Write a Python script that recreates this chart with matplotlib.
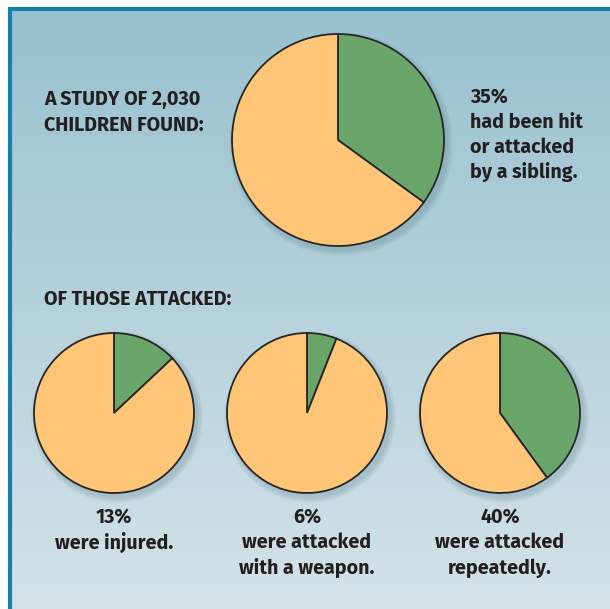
import numpy as np
import matplotlib
matplotlib.use("Agg")
import matplotlib.pyplot as plt
from matplotlib.colors import LinearSegmentedColormap
from matplotlib.patches import Circle

# data
top_share = [35, 65]
small_shares = [13, 6, 40]
small_labels = [["13%", "were injured."],
                ["6%", "were attacked", "with a weapon."],
                ["40%", "were attacked", "repeatedly."]]
intro_lines = ["A STUDY OF 2,030", "CHILDREN FOUND:"]
top_lines = ["35%", "had been hit", "or attacked", "by a sibling."]
sub_title = "OF THOSE ATTACKED:"

green = "#6aa66a"
orange = "#ffc678"
edge = "#262626"
ink = "#231f20"
font = ["Fira Sans", "DejaVu Sans"]
fsize = 14.2

W, H = 610, 609
fig = plt.figure(figsize=(W / 100, H / 100), dpi=100)
ax = fig.add_axes([0, 0, 1, 1])


def py(y):
    # pixel row from top -> data y
    return H - y


def lines(x, y0, rows, ha="left", pitch=25.5):
    for i, r in enumerate(rows):
        ax.text(x, py(y0 + i * pitch), r, ha=ha, va="baseline", fontsize=fsize,
                fontweight="bold", family=font, color=ink, zorder=5)


# background box with gradient
cmap = LinearSegmentedColormap.from_list("bg", ["#98c1cf", "#d4e3e8"])
grad = np.linspace(0, 1, 256).reshape(-1, 1)
ax.imshow(grad, cmap=cmap, extent=[10, W + 5, py(H + 5), py(9)],
          aspect="auto", origin="upper", zorder=0)
ax.plot([9.5, 9.5], [py(H + 5), py(8.5)], color="#1a7fa8", lw=3, zorder=1,
        solid_capstyle="butt")
ax.plot([8, W + 5], [py(8.5), py(8.5)], color="#1a7fa8", lw=3, zorder=1,
        solid_capstyle="butt")

wp = dict(edgecolor=edge, linewidth=1.3)


def shadow(cx, cy, r):
    for k in range(6):
        ax.add_patch(Circle((cx + 3, py(cy) - 4), r + 6 - k, color="#305868",
                            alpha=0.035, lw=0, zorder=1))


# big pie
shadow(338, 140, 106)
ax.pie(top_share, colors=[green, orange], startangle=90, counterclock=False,
       center=(338, py(140)), radius=106, wedgeprops=wp, frame=True)

# small pies
centers_x = [114, 307, 500]
for cx, share, lab in zip(centers_x, small_shares, small_labels):
    shadow(cx, 413, 80)
    ax.pie([share, 100 - share], colors=[green, orange], startangle=90,
           counterclock=False, center=(cx, py(413)), radius=80,
           wedgeprops=wp, frame=True)
    lines(cx, 523, lab, ha="center")

lines(44, 105, intro_lines, pitch=26)
lines(470, 103, top_lines, pitch=25)
lines(44, 305, [sub_title])

ax.set_xlim(0, W)
ax.set_ylim(0, H)
ax.set_aspect("auto")
ax.axis("off")

fig.savefig("out.png", dpi=100, facecolor="white")
